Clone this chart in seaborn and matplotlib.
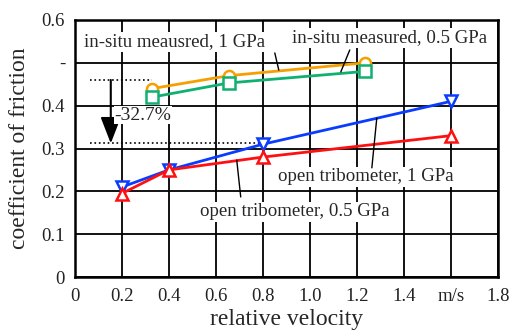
import matplotlib
matplotlib.use("Agg")
import matplotlib.pyplot as plt
import seaborn as sns
import pandas as pd

# Data
insitu_1_x = [0.33, 0.655, 1.235]
insitu_1_y = [0.44, 0.47, 0.50]
insitu_05_x = [0.33, 0.655, 1.235]
insitu_05_y = [0.42, 0.453, 0.48]
open_1_x = [0.2, 0.4, 0.8, 1.6]
open_1_y = [0.21, 0.25, 0.31, 0.41]
open_05_x = [0.2, 0.4, 0.8, 1.6]
open_05_y = [0.195, 0.25, 0.28, 0.33]

x_ticks = [0, 0.2, 0.4, 0.6, 0.8, 1.0, 1.2, 1.4, 1.6, 1.8]
x_labels = ["0", "0.2", "0.4", "0.6", "0.8", "1.0", "1.2", "1.4", "m/s", "1.8"]
y_ticks = [0, 0.1, 0.2, 0.3, 0.4, 0.5, 0.6]
y_labels = ["0", "0.1", "0.2", "0.3", "0.4", "-", "0.6"]

sns.set_style("white")
plt.rcParams['font.family'] = ['Liberation Serif', 'DejaVu Serif']

fig = plt.figure(figsize=(5.09, 3.33), dpi=100)
ax = fig.add_axes([0.147, 0.168, 0.831, 0.772])

series = [
    (insitu_1_x, insitu_1_y, "#f5a000", "o"),
    (insitu_05_x, insitu_05_y, "#10b070", "s"),
    (open_1_x, open_1_y, "#0a3cff", "v"),
    (open_05_x, open_05_y, "#ff1010", "^"),
]
for xs, ys, c, m in series:
    df = pd.DataFrame({"x": xs, "y": ys})
    sns.lineplot(data=df, x="x", y="y", ax=ax, color=c, marker=m,
                 markersize=8, markerfacecolor="white", markeredgecolor=c,
                 markeredgewidth=1.8, linewidth=2, zorder=5)

ax.set_xlim(0, 1.8)
ax.set_ylim(0, 0.6)
ax.set_xticks(x_ticks)
ax.set_xticklabels(x_labels)
ax.set_yticks(y_ticks)
ax.set_yticklabels(y_labels)
ax.tick_params(length=0, labelsize=13.5, colors="#222222")
ax.tick_params(axis="x", pad=8)
ax.tick_params(axis="y", pad=7)
ax.grid(True, color="black", linewidth=1.3)
ax.set_axisbelow(True)
for s in ax.spines.values():
    s.set_color("black")
    s.set_linewidth(1.8)
ax.set_xlabel("relative velocity", fontsize=17, labelpad=3)
ax.set_ylabel("coefficient of friction", fontsize=17, labelpad=8)

# dotted reference lines and arrow
ax.plot([0.064, 0.33], [0.46, 0.46], color="black", linestyle=":", linewidth=1.2, zorder=3)
ax.plot([0.064, 0.8], [0.312, 0.312], color="black", linestyle=":", linewidth=1.2, zorder=3)
ax.annotate("", xy=(0.153, 0.312), xytext=(0.153, 0.46),
            arrowprops=dict(arrowstyle="-|>,head_length=0.9,head_width=0.35", color="black",
                            lw=1.5, mutation_scale=18, shrinkA=0, shrinkB=0), zorder=6)
ax.text(0.168, 0.378, "-32.7%", fontsize=14, ha="left", va="center",
        bbox=dict(facecolor="white", edgecolor="none", pad=0.5), zorder=7)

# annotations with leader lines
def label(text, tx, ty, lx0, ly0, lx1, ly1):
    ax.text(tx, ty, text, fontsize=13.6, ha="center", va="center",
            bbox=dict(facecolor="white", edgecolor="none", pad=1), zorder=8)
    ax.plot([lx0, lx1], [ly0, ly1], color="black", linewidth=1, zorder=9)

label("in-situ meausred, 1 GPa", 0.426, 0.549, 0.851, 0.523, 0.868, 0.483)
label("in-situ measured, 0.5 GPa", 1.34, 0.558, 1.17, 0.530, 1.132, 0.479)
label("open tribometer, 1 GPa", 1.238, 0.234, 1.285, 0.371, 1.264, 0.255)
label("open tribometer, 0.5 GPa", 0.936, 0.152, 0.689, 0.273, 0.706, 0.187)

fig.savefig("out.png", dpi=100)
